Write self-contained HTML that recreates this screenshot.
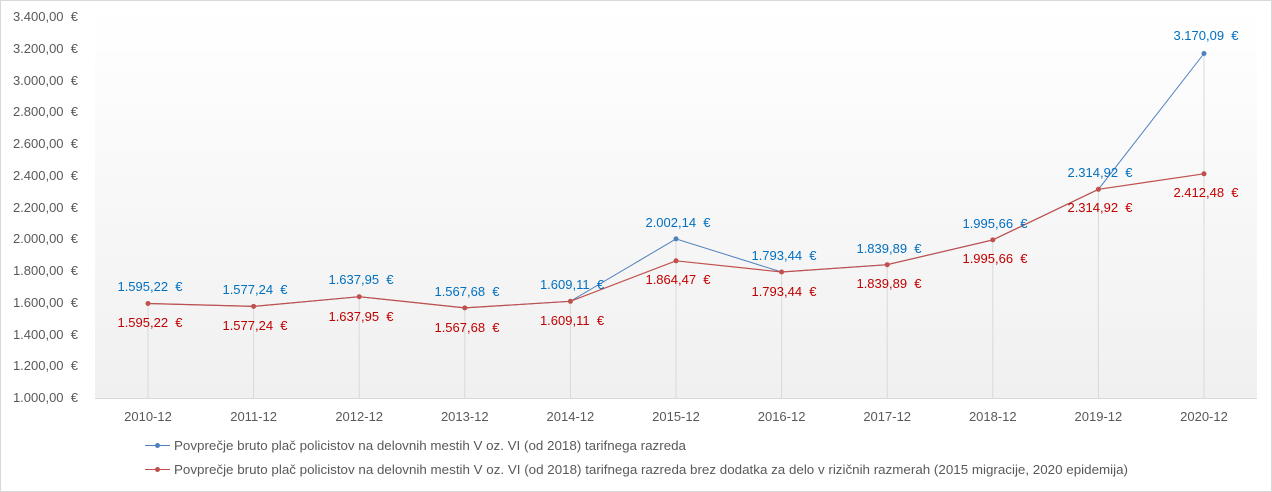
<!DOCTYPE html>
<html><head><meta charset="utf-8"><style>
html,body{margin:0;padding:0;background:#fff}
svg{display:block}
text{font-family:"Liberation Sans",sans-serif;font-size:13px;white-space:pre}
</style></head><body>
<svg width="1272" height="492" xmlns="http://www.w3.org/2000/svg" xml:space="preserve">
<defs><linearGradient id="g" x1="0" y1="0" x2="0" y2="1"><stop offset="0" stop-color="#ffffff"/><stop offset="1" stop-color="#f0f0f0"/></linearGradient></defs>
<rect x="0.5" y="0.5" width="1271" height="491" fill="#fff" stroke="#d9d9d9"/>
<rect x="95" y="10" width="1162" height="388" fill="url(#g)"/>
<line x1="95" y1="398.5" x2="1257" y2="398.5" stroke="#d9d9d9"/>
<g fill="#595959" text-anchor="end">
<text x="78" y="21">3.400,00  €</text>
<text x="78" y="53">3.200,00  €</text>
<text x="78" y="85">3.000,00  €</text>
<text x="78" y="116">2.800,00  €</text>
<text x="78" y="148">2.600,00  €</text>
<text x="78" y="180">2.400,00  €</text>
<text x="78" y="212">2.200,00  €</text>
<text x="78" y="243">2.000,00  €</text>
<text x="78" y="275">1.800,00  €</text>
<text x="78" y="307">1.600,00  €</text>
<text x="78" y="339">1.400,00  €</text>
<text x="78" y="370">1.200,00  €</text>
<text x="78" y="402">1.000,00  €</text>
</g>
<g stroke="#d9d9d9" stroke-width="1">
<line x1="148" y1="303.5" x2="148" y2="398"/>
<line x1="253.6" y1="306.4" x2="253.6" y2="398"/>
<line x1="359.2" y1="296.7" x2="359.2" y2="398"/>
<line x1="464.8" y1="307.9" x2="464.8" y2="398"/>
<line x1="570.4" y1="301.3" x2="570.4" y2="398"/>
<line x1="676" y1="238.9" x2="676" y2="398"/>
<line x1="781.6" y1="272" x2="781.6" y2="398"/>
<line x1="887.2" y1="264.7" x2="887.2" y2="398"/>
<line x1="992.8" y1="239.9" x2="992.8" y2="398"/>
<line x1="1098.4" y1="189.3" x2="1098.4" y2="398"/>
<line x1="1204" y1="53.5" x2="1204" y2="398"/>
</g>
<g fill="#595959" text-anchor="middle">
<text x="148" y="421">2010-12</text><text x="253.6" y="421">2011-12</text><text x="359.2" y="421">2012-12</text><text x="464.8" y="421">2013-12</text><text x="570.4" y="421">2014-12</text><text x="676" y="421">2015-12</text><text x="781.6" y="421">2016-12</text><text x="887.2" y="421">2017-12</text><text x="992.8" y="421">2018-12</text><text x="1098.4" y="421">2019-12</text><text x="1204" y="421">2020-12</text>
</g>
<polyline fill="none" stroke="#4f81bd" stroke-width="1" points="148,303.5 253.6,306.4 359.2,296.7 464.8,307.9 570.4,301.3 676,238.9 781.6,272 887.2,264.7 992.8,239.9 1098.4,189.3 1204,53.5"/>
<g fill="#4f81bd">
<circle cx="676" cy="238.9" r="2.5"/><circle cx="1204" cy="53.5" r="2.5"/>
</g>
<polyline fill="none" stroke="#c0504d" stroke-width="1.2" points="148,303.5 253.6,306.4 359.2,296.7 464.8,307.9 570.4,301.3 676,260.8 781.6,272 887.2,264.7 992.8,239.9 1098.4,189.3 1204,173.8"/>
<g fill="#c0504d">
<circle cx="148" cy="303.5" r="2.5"/><circle cx="253.6" cy="306.4" r="2.5"/><circle cx="359.2" cy="296.7" r="2.5"/><circle cx="464.8" cy="307.9" r="2.5"/><circle cx="570.4" cy="301.3" r="2.5"/><circle cx="676" cy="260.8" r="2.5"/><circle cx="781.6" cy="272" r="2.5"/><circle cx="887.2" cy="264.7" r="2.5"/><circle cx="992.8" cy="239.9" r="2.5"/><circle cx="1098.4" cy="189.3" r="2.5"/><circle cx="1204" cy="173.8" r="2.5"/>
</g>
<g fill="#0070c0" text-anchor="middle">
<text x="150" y="291">1.595,22  €</text>
<text x="255" y="294">1.577,24  €</text>
<text x="361" y="284">1.637,95  €</text>
<text x="467" y="296">1.567,68  €</text>
<text x="572" y="289">1.609,11  €</text>
<text x="678" y="227">2.002,14  €</text>
<text x="784" y="260">1.793,44  €</text>
<text x="889" y="253">1.839,89  €</text>
<text x="995" y="228">1.995,66  €</text>
<text x="1100" y="177">2.314,92  €</text>
<text x="1206" y="40">3.170,09  €</text>
</g>
<g fill="#c00000" text-anchor="middle">
<text x="150" y="327">1.595,22  €</text>
<text x="255" y="330">1.577,24  €</text>
<text x="361" y="321">1.637,95  €</text>
<text x="467" y="332">1.567,68  €</text>
<text x="572" y="325">1.609,11  €</text>
<text x="678" y="284">1.864,47  €</text>
<text x="784" y="296">1.793,44  €</text>
<text x="889" y="288">1.839,89  €</text>
<text x="995" y="263">1.995,66  €</text>
<text x="1100" y="212">2.314,92  €</text>
<text x="1206" y="197">2.412,48  €</text>
</g>
<line x1="145" y1="445.5" x2="170" y2="445.5" stroke="#4f81bd"/><circle cx="157.5" cy="445.5" r="2.5" fill="#4f81bd"/>
<line x1="145" y1="469.5" x2="170" y2="469.5" stroke="#c0504d"/><circle cx="157.5" cy="469.5" r="2.5" fill="#c0504d"/>
<g fill="#595959">
<text x="174" y="450" textLength="512" lengthAdjust="spacingAndGlyphs">Povprečje bruto plač policistov na delovnih mestih V oz. VI (od 2018) tarifnega razreda</text>
<text x="174" y="474" textLength="954" lengthAdjust="spacingAndGlyphs">Povprečje bruto plač policistov na delovnih mestih V oz. VI (od 2018) tarifnega razreda brez dodatka za delo v rizičnih razmerah (2015 migracije, 2020 epidemija)</text>
</g>
</svg>
</body></html>
